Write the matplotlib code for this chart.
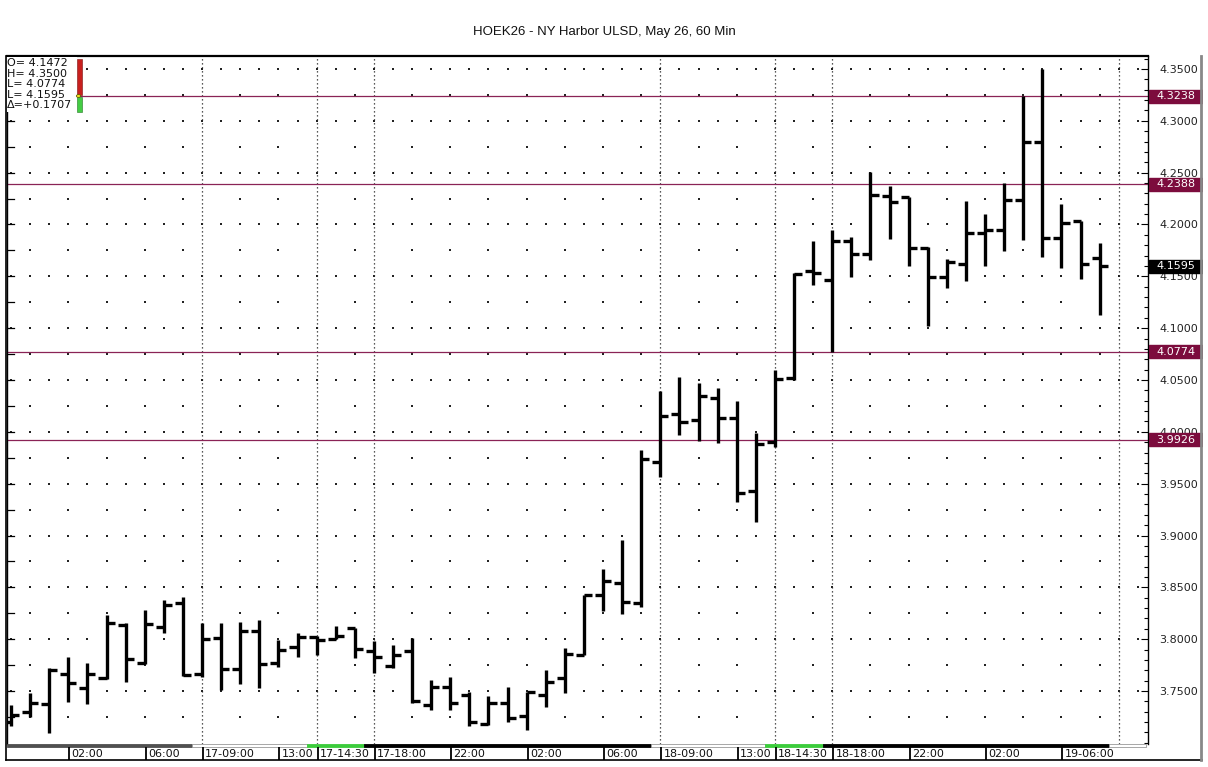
import numpy as np
import matplotlib.pyplot as plt
from matplotlib.patches import Rectangle, Circle
from matplotlib.lines import Line2D

plt.rcParams['font.family'] = ['Liberation Sans', 'DejaVu Sans']
small_font = ['DejaVu Sans']

title = 'HOEK26 - NY Harbor ULSD, May 26, 60 Min'

# hourly OHLC bars
opens = [3.7204, 3.7301, 3.7375, 3.7661, 3.7532, 3.7623, 3.8137, 3.7767, 3.8120, 3.8346,
         3.7664, 3.8008, 3.7712, 3.8079, 3.7773, 3.7922, 3.8024, 3.8005, 3.8105, 3.7889,
         3.7741, 3.7886, 3.7365, 3.7542, 3.7462, 3.7182, 3.7382, 3.7259, 3.7462, 3.7628,
         3.7847, 3.8426, 3.8545, 3.8346, 3.9712, 4.0172, 4.0114, 4.0329, 4.0131, 3.9432,
         3.9905, 4.0516, 4.1554, 4.1465, 4.1844, 4.1713, 4.2278, 4.2268, 4.1776, 4.1491,
         4.1616, 4.1915, 4.1947, 4.2236, 4.2799, 4.1873, 4.2034, 4.1674]
highs = [3.7365, 3.7478, 3.7719, 3.7825, 3.7767, 3.8233, 3.8153, 3.8281, 3.8378, 3.8410,
         3.8153, 3.8153, 3.8169, 3.8185, 3.7992, 3.8057, 3.8031, 3.8130, 3.8105, 3.7985,
         3.7944, 3.8009, 3.7606, 3.7632, 3.7493, 3.7452, 3.7542, 3.7493, 3.7703, 3.7912,
         3.8426, 3.8674, 3.8957, 3.9825, 4.0394, 4.0532, 4.0468, 4.0420, 4.0300, 3.9986,
         4.0597, 4.1535, 4.1841, 4.1947, 4.1882, 4.2506, 4.2374, 4.2268, 4.1786, 4.1667,
         4.2227, 4.2098, 4.2397, 4.3238, 4.3500, 4.2195, 4.2034, 4.1824]
lows = [3.7165, 3.7252, 3.7098, 3.7391, 3.7375, 3.7616, 3.7590, 3.7761, 3.8063, 3.7648,
        3.7638, 3.7510, 3.7565, 3.7526, 3.7729, 3.7831, 3.7847, 3.8000, 3.7821, 3.7677,
        3.7719, 3.7382, 3.7317, 3.7317, 3.7163, 3.7172, 3.7204, 3.7124, 3.7343, 3.7484,
        3.7847, 3.8275, 3.8243, 3.8313, 3.9567, 3.9970, 3.9915, 3.9895, 3.9326, 3.9133,
        3.9857, 4.0500, 4.1416, 4.0774, 4.1491, 4.1658, 4.1857, 4.1603, 4.1021, 4.1385,
        4.1455, 4.1603, 4.1747, 4.1851, 4.1689, 4.1578, 4.1474, 4.1127]
closes = [3.7269, 3.7382, 3.7703, 3.7574, 3.7661, 3.8153, 3.7806, 3.8144, 3.8330, 3.7654,
          3.7999, 3.7712, 3.8079, 3.7761, 3.7896, 3.8018, 3.7992, 3.8031, 3.7902, 3.7831,
          3.7847, 3.7404, 3.7542, 3.7387, 3.7204, 3.7382, 3.7237, 3.7493, 3.7590, 3.7854,
          3.8426, 3.8564, 3.8362, 3.9735, 4.0156, 4.0092, 4.0346, 4.0136, 3.9407, 3.9880,
          4.0507, 4.1523, 4.1529, 4.1844, 4.1713, 4.2285, 4.2220, 4.1770, 4.1491, 4.1635,
          4.1915, 4.1947, 4.2236, 4.2799, 4.1867, 4.2017, 4.1616, 4.1595]

level_lines = [4.3238, 4.2388, 4.0774, 3.9926]
last_price = 4.1595

time_labels = ['02:00', '06:00', '17-09:00', '13:00', '17-14:30', '17-18:00', '22:00', '02:00',
               '06:00', '18-09:00', '13:00', '18-14:30', '18-18:00', '22:00', '02:00', '19-06:00']
label_bars = [3, 7, 10, 14, 16, 19, 23, 27, 31, 34, 38, 40, 43, 47, 51, 55]
session_bars = [10, 16, 19, 34, 40, 43, 58]
band_edges = [-0.21, 9.5, 15.5, 18.5, 33.5, 39.5, 42.5, 57.5, 59.4]
band_colors = ['#505050', 'white', '#3ccc3c', 'black', 'white', '#3ccc3c', 'black', 'white']

info_lines = ['O= 4.1472', 'H= 4.3500', 'L= 4.0774', 'L= 4.1595', '\u0394=+0.1707']

W, H = 1208, 767
x0, x1 = -0.21, 59.53
y0, y1 = 3.6989, 4.3625

fig = plt.figure(figsize=(W / 100, H / 100), dpi=100)
fig.patch.set_facecolor('white')


def fr(px, py):
    return px / W, 1 - py / H


ax = fig.add_axes([7 / W, 1 - 744 / H, (1148 - 7) / W, (744 - 56) / H])
ax.set_xlim(x0, x1)
ax.set_ylim(y0, y1)

# dotted background grid
maroon = '#7c0c3d'
n = len(opens)
all_x = np.arange(0, 60)
starts = [-5] + session_bars + [60]
minor_x = []
for a, b in zip(starts[:-1], starts[1:]):
    minor_x += [i for i in range(a + 2, b, 2) if i >= 0]
for k in range(1, 27):
    lv = 3.70 + 0.025 * k
    xs = all_x if k % 2 == 0 else np.array(minor_x)
    ax.scatter(xs, np.full(len(xs), lv), s=1.3, marker='s', color='#222222', linewidths=0, zorder=1)
    ax.plot([0, 0.006], [lv, lv], transform=ax.get_yaxis_transform(), color='black', lw=0.9, zorder=1)

for s in session_bars:
    ax.axvline(s, color='#222222', lw=0.9, linestyle=(0, (1, 2.2)), zorder=1)

for v in level_lines:
    ax.axhline(v, color='#8a2356', lw=0.9, zorder=2)

x = np.arange(n)
ax.vlines(x, lows, highs, color='black', lw=2.4, zorder=3)
ax.hlines(opens, x - 0.42, x, color='black', lw=2.4, zorder=3)
ax.hlines(closes, x, x + 0.42, color='black', lw=2.4, zorder=3)

ax.yaxis.tick_right()
ax.set_yticks(np.arange(3.75, 4.3501, 0.05))
ax.set_yticks(np.arange(3.70, 4.3601, 0.01), minor=True)
ax.yaxis.set_major_formatter(plt.FormatStrFormatter('%.4f'))
ax.tick_params(axis='y', which='major', direction='in', length=5, width=0.8,
               labelsize=8, pad=8, labelcolor='#222222')
ax.tick_params(axis='y', which='minor', direction='in', length=3, width=0.8)
for lab in ax.get_yticklabels():
    lab.set_family(small_font)
ax.set_xticks([])
ax.spines['top'].set_linewidth(1.6)
ax.spines['bottom'].set_visible(False)
ax.spines['left'].set_linewidth(1.0)
ax.spines['right'].set_linewidth(1.0)

# price boxes on the right scale
axr = fig.add_axes([1149 / W, 1 - 744 / H, (1203 - 1149) / W, (744 - 56) / H])
axr.set_xlim(0, 1)
axr.set_ylim(y0, y1)
axr.axis('off')
bh = 13 / 1036.7
for v in level_lines:
    axr.add_patch(Rectangle((0, v - bh / 2), 1, bh, color=maroon, zorder=5))
    axr.text(0.5, v, f'{v:.4f}', color='white', fontsize=8, family=small_font,
             ha='center', va='center', zorder=6)
axr.add_patch(Rectangle((0, last_price - bh / 2), 1, bh, color='black', zorder=5))
axr.text(0.5, last_price, f'{last_price:.4f}', color='white', fontsize=8, family=small_font,
         ha='center', va='center', zorder=6)

# time band and labels at the bottom
axb = fig.add_axes([7 / W, 1 - 760 / H, (1148 - 7) / W, 16 / H])
axb.set_xlim(x0, x1)
axb.set_ylim(0, 1)
axb.axis('off')
for c, a, b in zip(band_colors, band_edges[:-1], band_edges[1:]):
    axb.add_patch(Rectangle((a, 0.8), b - a, 0.2, facecolor=c,
                            edgecolor='#999999' if c == 'white' else c, lw=0.6))
axb.vlines(np.array(label_bars) + 0.05, 0, 0.8, color='black', lw=1.3)
for i, lab in zip(label_bars, time_labels):
    axb.text(i + 0.17, 0.37, lab, fontsize=8, family=small_font,
             ha='left', va='center', color='#111111')

# frame lines
fig.add_artist(Line2D([6 / W, 1202 / W], [1 - 760 / H, 1 - 760 / H], color='black', lw=1.2))
fig.add_artist(Line2D([6 / W, 6 / W], [1 - 760 / H, 1 - 56 / H], color='black', lw=1.2))
fig.add_artist(Line2D([1201 / W, 1201 / W], [1 - 760 / H, 1 - 56 / H], color='#888888', lw=2))

# info box top left
fig.add_artist(Rectangle(fr(7, 112), 70 / W, 55 / H, facecolor='white', edgecolor='none',
                         transform=fig.transFigure, zorder=5))
for j, t in enumerate(info_lines):
    fx, fy = fr(7, 63.3 + 10.5 * j)
    fig.text(fx, fy, t, fontsize=8, family=small_font, ha='left', va='center',
             color='#111111', zorder=6)
fig.add_artist(Rectangle(fr(77, 95), 4.5 / W, 36 / H, facecolor='#c8201e', edgecolor='#7a1010',
                         lw=0.4, transform=fig.transFigure, zorder=6))
fig.add_artist(Rectangle(fr(77, 112), 4.5 / W, 15 / H, facecolor='#44cc44', edgecolor='#227722',
                         lw=0.4, transform=fig.transFigure, zorder=6))
fig.add_artist(Circle(fr(78.5, 96), 2.2 / W, facecolor='#f0e020', edgecolor='#555500', lw=0.5,
                      transform=fig.transFigure, zorder=7))

fx, fy = fr(604, 32)
fig.text(fx, fy, title, fontsize=9.5, ha='center', va='center', color='#111111')

fig.savefig('out.png', dpi=100)
